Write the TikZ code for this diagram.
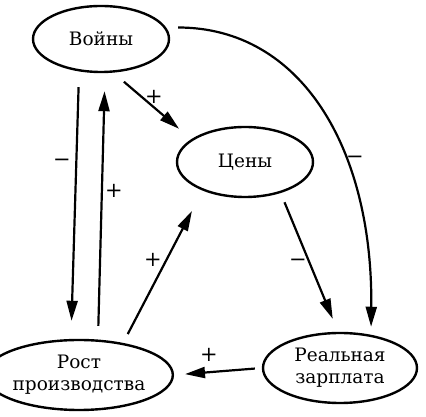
\documentclass[tikz,border=0pt]{standalone}
\usepackage{fontspec}
\setmainfont{DejaVu Serif}
\usepackage{tikz}
\usetikzlibrary{arrows.meta, shapes.geometric}
\tikzset{
    factor/.style={ellipse, draw, line width=2.4pt, inner sep=0pt, minimum height=70pt, align=center, font=\fontsize{18.5}{22}\selectfont},
    link/.style={line width=2.2pt, -{Triangle[length=20pt, width=11pt]}},
    sign/.style={font=\fontsize{21}{24}\selectfont},
}

\begin{document}
\begin{tikzpicture}[x=1pt, y=1pt]
    \useasboundingbox (0,0) rectangle (426,417);

    % Factors
    \node[factor, minimum width=136pt, minimum height=66pt] (voiny) at (101,378) {Войны};
    \node[factor, minimum width=136pt] (ceny) at (245,255) {Цены};
    \node[factor, minimum width=156pt] (rost) at (79,42) {Рост\\производства};
    \node[factor, minimum width=154pt] (zarplata) at (340,49) {Реальная\\зарплата};

    % Links
    \draw[link, shorten <=14pt, shorten >=18pt] ([xshift=-22pt]voiny.south) -- ([xshift=-8pt]rost.north);
    \draw[link, shorten <=13pt, shorten >=18pt] ([xshift=19pt]rost.north) -- ([xshift=4pt]voiny.south);
    \draw[link, shorten <=14pt, shorten >=16pt] (voiny.-70) -- (ceny.157);
    \draw[link, shorten <=10pt, shorten >=23pt] (rost.36) -- (ceny.214);
    \draw[link, shorten <=10pt, shorten >=14pt] (ceny.-41) -- (zarplata.93);
    \draw[link, shorten <=12pt, shorten >=8pt] (voiny.10) .. controls +(135,0) and +(2,186) .. (zarplata.47);
    \draw[link, shorten <=7pt, shorten >=11pt] (zarplata.west) -- (rost.east);

    % Signs
    \node[sign] (s1) at (62,254) {−};
    \node[sign] (s2) at (114,226) {+};
    \node[sign] (s3) at (154,320) {+};
    \node[sign] (s4) at (153,157) {+};
    \node[sign] (s5) at (298,154) {−};
    \node[sign] (s6) at (355,257) {−};
    \node[sign] (s7) at (209,62) {+};
\end{tikzpicture}
\end{document}
